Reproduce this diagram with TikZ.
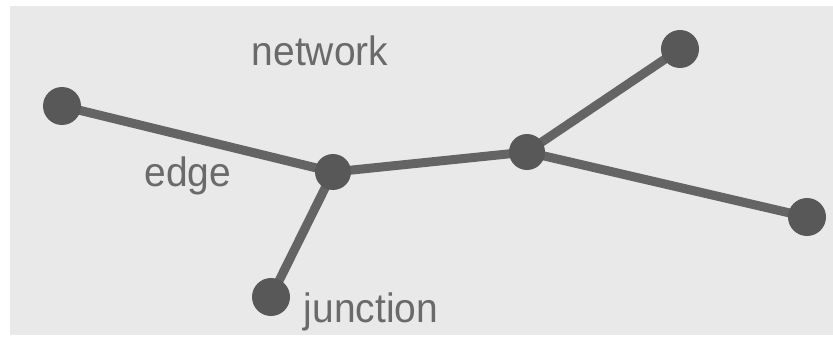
\documentclass[tikz,border=0pt]{standalone}
\usepackage{fontspec}
\setmainfont{Liberation Sans}
\definecolor{bgc}{HTML}{E9E9E9}
\definecolor{edgec}{HTML}{646464}
\definecolor{dotc}{HTML}{585858}
\definecolor{txtc}{HTML}{6A6A6A}
\begin{document}
\begin{tikzpicture}[x=1pt,y=-1pt,
  dot/.style={circle,fill=dotc,minimum size=38pt,inner sep=0pt},
  jdot/.style={circle,fill=dotc,minimum size=36pt,inner sep=0pt},
  link/.style={draw=edgec,line width=9pt},
  lbl/.style={text=txtc,font=\fontsize{41}{41}\selectfont,inner sep=0pt,anchor=base}]
\useasboundingbox (0,0) rectangle (833,337);
\fill[white] (0,0) rectangle (833,337);
\fill[bgc] (10,6) rectangle (833,335);
\coordinate (pa) at (62,106);
\coordinate (pb) at (333,172);
\coordinate (pc) at (527,152);
\coordinate (pd) at (680,49);
\coordinate (pe) at (807,217);
\coordinate (pf) at (271,297);
\draw[link] (pa) -- (pb);
\draw[link] (pb) -- (pc);
\draw[link] (pb) -- (pf);
\draw[link] (pc) -- (pd);
\draw[link] (pc) -- (pe);
\node[dot] (na) at (pa) {};
\node[jdot] (nb) at (pb) {};
\node[jdot] (nc) at (pc) {};
\node[dot] (nd) at (pd) {};
\node[dot] (ne) at (pe) {};
\node[dot] (nf) at (pf) {};
\node[lbl] (tnet) at (320,66) {\scalebox{0.95}[1]{network}};
\node[lbl] (tedge) at (188,186) {\scalebox{0.95}[1]{edge}};
\node[lbl] (tjun) at (371,322) {\scalebox{0.95}[1]{junction}};
\end{tikzpicture}
\end{document}
